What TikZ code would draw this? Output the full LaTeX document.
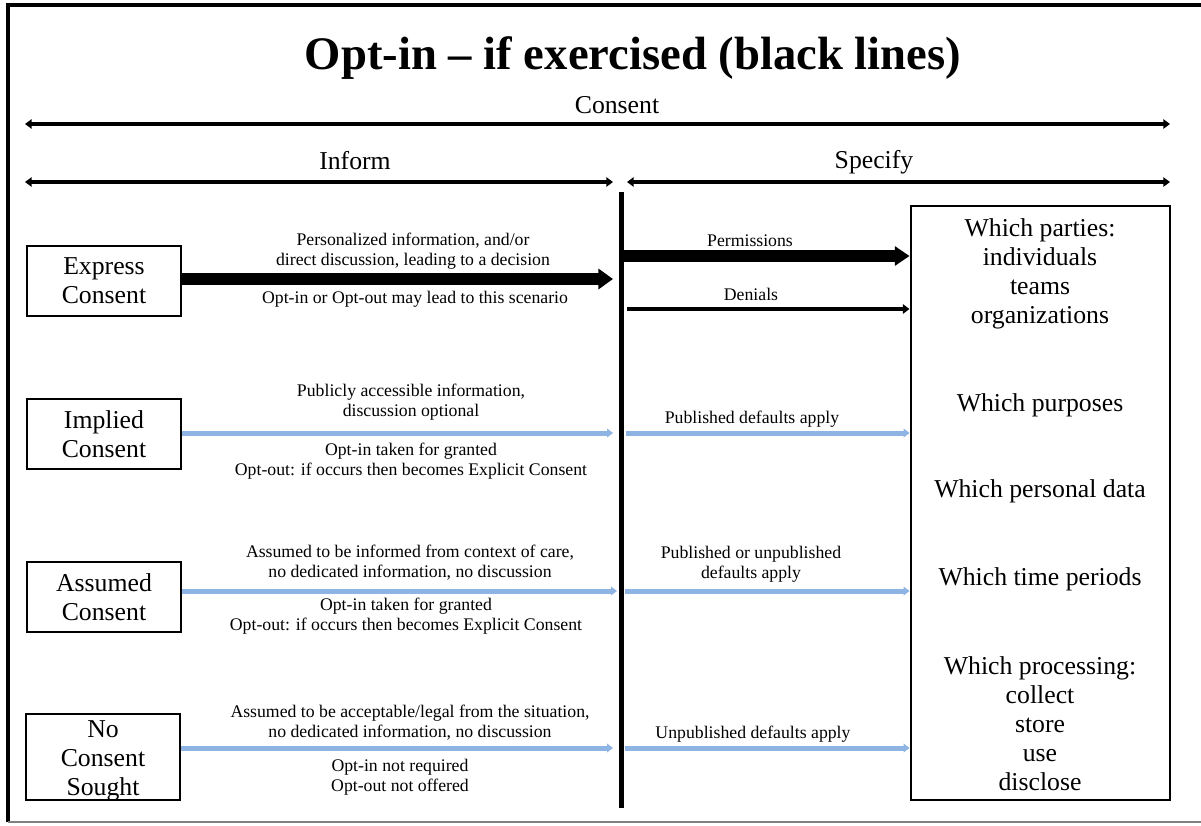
\documentclass[tikz,border=0pt]{standalone}
\usepackage{fontspec}
\setmainfont{Liberation Serif}
\usetikzlibrary{arrows.meta}
\definecolor{optblue}{RGB}{141,180,226}
\begin{document}
\begin{tikzpicture}[x=0.75pt,y=-0.75pt,
  small/.style={font={\fontsize{13.3}{15}\selectfont},align=center,inner sep=0pt},
  big/.style={font={\fontsize{19.3}{21.75}\selectfont},align=center,inner sep=0pt},
  cbox/.style={draw,line width=2.2pt,minimum width=115.5pt,minimum height=52.5pt,
    font={\fontsize{19.3}{21.75}\selectfont},align=center,inner sep=0pt},
  span/.style={line width=3pt,{Triangle[width=7pt,length=5pt]}-{Triangle[width=7pt,length=5pt]}},
  fat/.style={line width=9.5pt,-{Triangle[width=15pt,length=11pt]}},
  thinblack/.style={line width=3.5pt,-{Triangle[width=7pt,length=5pt]}},
  bluearrow/.style={optblue,line width=3.75pt,-{Triangle[width=6.5pt,length=4.5pt]}}]
\useasboundingbox (0,0) rectangle (1201,825);

% outer frame
\draw[line width=3pt] (1201,5) -- (8,5) -- (8,822);
\draw[gray,line width=1.5pt] (8,822) -- (1201,822);

% title and header spans
\node[font={\fontsize{35}{40}\selectfont\bfseries}] (title) at (633,58) {Opt-in -- if exercised (black lines)};
\node[big] (consentlbl) at (617,105) {Consent};
\node[big] (informlbl) at (355,161) {Inform};
\node[big] (specifylbl) at (874,162) {Specify};
\coordinate (cL) at (25,124);  \coordinate (cR) at (1170,124);
\coordinate (iL) at (25,182);  \coordinate (iR) at (613,182);
\coordinate (sL) at (627,182); \coordinate (sR) at (1170,182);
\draw[span] (cL) -- (cR);
\draw[span] (iL) -- (iR);
\draw[span] (sL) -- (sR);

% divider between Inform and Specify
\coordinate (vtop) at (621,192);
\coordinate (vbot) at (621,808);
\draw[line width=3.75pt] (vtop) -- (vbot);
\coordinate (lstop) at (613,0);
\coordinate (rstart) at (626,0);

% consent kinds
\node[cbox] (express) at (104,281) {Express\\Consent};
\node[cbox] (implied) at (104,434) {Implied\\Consent};
\node[cbox] (assumed) at (104,597) {Assumed\\Consent};
\node[cbox,minimum height=64.5pt] (nocons) at (103,757) {};
\node[big] (noconstext) at (103,761) {No\\Consent\\Sought};

% specification box
\node[draw,line width=2.2pt,minimum width=194.25pt,minimum height=445.5pt,inner sep=0pt] (spec) at (1040.5,503) {};
\node[big] (parties) at (1040,274) {Which parties:\\individuals\\teams\\organizations};
\node[big] (purposes) at (1040,405) {Which purposes};
\node[big] (pdata) at (1040,491) {Which personal data};
\node[big] (periods) at (1040,579) {Which time periods};
\node[big] (processing) at (1040,724) {Which processing:\\collect\\store\\use\\disclose};

% express consent
\coordinate (e1) at (express.east |- 0,279);
\draw[fat] (e1) -- (e1 -| lstop);
\node[small] (etop) at (413,251) {Personalized information, and/or\\direct discussion, leading to a decision};
\node[small] (ebot) at (415,299) {Opt-in or Opt-out may lead to this scenario};
\coordinate (p1) at (623,256);
\draw[line width=9pt,-{Triangle[width=14pt,length=11pt]}] (p1) -- (p1 -| spec.west);
\node[small] (permlbl) at (750,241) {Permissions};
\coordinate (d1) at (627,309);
\draw[thinblack] (d1) -- (d1 -| spec.west);
\node[small] (denlbl) at (751,294) {Denials};

% implied consent
\coordinate (m1) at (implied.east |- 0,433);
\draw[bluearrow] (m1) -- (m1 -| lstop);
\node[small] (mtop) at (411,402) {Publicly accessible information,\\discussion optional};
\node[small] (mbot) at (411,461) {Opt-in taken for granted\\Opt-out: if occurs then becomes Explicit Consent};
\coordinate (m2) at (626,433);
\draw[bluearrow] (m2) -- (m2 -| spec.west);
\node[small] (mlbl) at (752,419) {Published defaults apply};

% assumed consent
\coordinate (a1) at (assumed.east |- 0,591);
\draw[bluearrow] (a1) -- (a1 -| 617,0);
\node[small] (atop) at (410,563) {Assumed to be informed from context of care,\\no dedicated information, no discussion};
\node[small] (abot) at (406,616) {Opt-in taken for granted\\Opt-out: if occurs then becomes Explicit Consent};
\coordinate (a2) at (625,591);
\draw[bluearrow] (a2) -- (a2 -| spec.west);
\node[small] (albl) at (751,564) {Published or unpublished\\defaults apply};

% no consent sought
\coordinate (n1) at (nocons.east |- 0,748);
\draw[bluearrow] (n1) -- (n1 -| lstop);
\node[small] (ntop) at (410,723) {Assumed to be acceptable/legal from the situation,\\no dedicated information, no discussion};
\node[small] (nbot) at (400,777) {Opt-in not required\\Opt-out not offered};
\coordinate (n2) at (625,748);
\draw[bluearrow] (n2) -- (n2 -| spec.west);
\node[small] (nlbl) at (753,734) {Unpublished defaults apply};
\end{tikzpicture}
\end{document}
